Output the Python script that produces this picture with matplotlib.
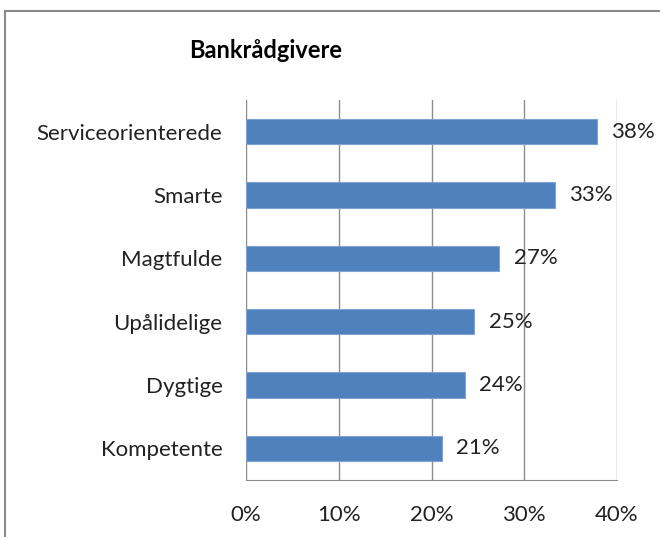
import matplotlib
matplotlib.use('Agg')
import matplotlib.pyplot as plt
from matplotlib.patches import Rectangle

categories = ['Kompetente', 'Dygtige', 'Upålidelige', 'Magtfulde', 'Smarte', 'Serviceorienterede']
values = [21.1, 23.6, 24.6, 27.3, 33.3, 37.8]
labels = ['21%', '24%', '25%', '27%', '33%', '38%']
xticks = [0, 10, 20, 30, 40]

plt.rcParams['font.family'] = ['Lato', 'DejaVu Sans']

W, H = 660, 537
fig = plt.figure(figsize=(W / 100, H / 100), dpi=100)

# plot area in pixels: x 246..617, y 100..480
ax = fig.add_axes([246 / W, 1 - 480 / H, (617 - 246) / W, (480 - 100) / H])

ypos = range(len(categories))
ax.barh(ypos, values, height=0.4, color='#4F81BD', edgecolor='#7FA3D3', linewidth=0.8, zorder=3)
for y, v, lab in zip(ypos, values, labels):
    ax.text(v + 1.55, y, lab, va='center', ha='left', fontsize=16, color='#222222', zorder=4)

ax.set_xlim(0, 40)
ax.set_ylim(-0.5, len(categories) - 0.5)
ax.set_xticks(xticks)
ax.set_xticklabels([f'{t}%' for t in xticks], fontsize=16, color='#222222')
ax.set_yticks(list(ypos))
ax.set_yticklabels(categories, fontsize=16, color='#222222')
ax.tick_params(axis='both', length=0)
ax.tick_params(axis='x', pad=18)
ax.tick_params(axis='y', pad=17)
ax.xaxis.grid(True, color='#8C8C8C', linewidth=1, zorder=0)
for s in ['top', 'right', 'left']:
    ax.spines[s].set_visible(False)
ax.spines['bottom'].set_color('#8C8C8C')

fig.text(266 / W, 1 - 50 / H, 'Bankrådgivere', ha='center', va='center',
         fontsize=17, fontweight='bold', color='black')

# outer chart frame (cut off at right and bottom)
fig.patches.append(Rectangle((5 / W, -0.1), 1.2, 1 - 11 / H + 0.1, transform=fig.transFigure,
                             fill=False, edgecolor='#8A8A8A', linewidth=1.5))

fig.savefig('out.png', dpi=100)
